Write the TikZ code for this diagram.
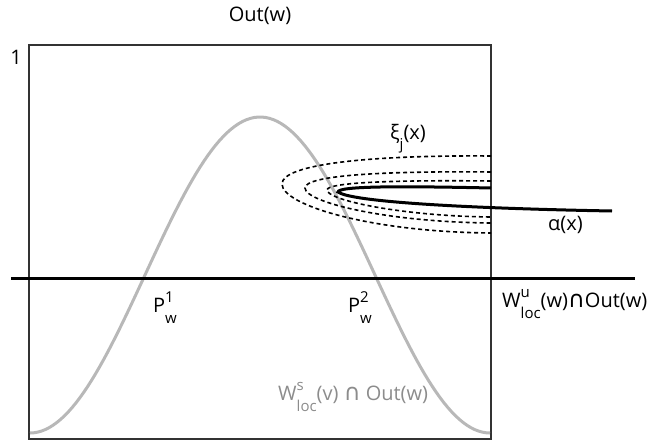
\documentclass[tikz,border=0pt]{standalone}
\usepackage{fontspec}
\setmainfont{Open Sans}
\newfontfamily\djv{DejaVu Sans}
\newcommand\scr{\fontsize{15}{15}\selectfont}
\newcommand\supsub[2]{\rlap{\raisebox{0.5em}{\scr #1}}\raisebox{-0.55em}{\scr #2}}
\newcommand\subonly[1]{\raisebox{-0.5em}{\scr #1}}
\newcommand\capsym{{\djv\fontsize{23}{24}\selectfont ∩}}
\begin{document}
\begin{tikzpicture}[x=1pt,y=-1pt,
  lbl/.style={font=\fontsize{20}{24}\selectfont, inner sep=0pt},
  frame/.style={draw=black!80, line width=1.5pt},
  axisline/.style={draw=black, line width=3pt},
  bump/.style={draw=black!28, line width=3pt},
  orbit/.style={draw=black, line width=3pt},
  leaf/.style={draw=black, line width=1.6pt, dash pattern=on 4pt off 3pt}]
\useasboundingbox (0,0) rectangle (652,441);
% frame
\draw[frame] (29,45) rectangle (491,439);
% gray bump
\draw[bump] plot[domain=30:490, samples=120] (\x, {433 - 158*(1-cos(0.78261*(\x-30)))});
% horizontal line
\coordinate (hl) at (11,278);
\coordinate (hr) at (635,278);
\draw[axisline] (hl) -- (hr);
% dashed leaves
\coordinate (o1) at (491,156); \coordinate (o2) at (282,184); \coordinate (o3) at (491,233);
\draw[leaf] (o1) .. controls (370,155) and (282,164) .. (o2) .. controls (282,205) and (370,232) .. (o3);
\coordinate (m1) at (491,172); \coordinate (m2) at (305,188); \coordinate (m3) at (491,223);
\draw[leaf] (m1) .. controls (385,171) and (305,175) .. (m2) .. controls (305,202) and (385,222) .. (m3);
\coordinate (i1) at (491,181); \coordinate (i2) at (327,190); \coordinate (i3) at (491,217);
\draw[leaf] (i1) .. controls (400,180) and (327,182) .. (i2) .. controls (327,200) and (400,216) .. (i3);
% alpha curve
\coordinate (a1) at (491,188); \coordinate (a2) at (338,192); \coordinate (a3) at (612,211);
\draw[orbit] (a1) .. controls (400,186) and (338,186) .. (a2) .. controls (350,201) and (450,208) .. (a3);
% labels
\node[lbl] (out) at (260,16) {Out(w)};
\node[lbl] (one) at (16,57) {1};
\node[lbl, anchor=base west] (xi) at (390,139) {ξ\subonly{j}(x)};
\node[lbl, anchor=base west] (al) at (548,230) {α(x)};
\node[lbl, anchor=base west] (p1) at (153,312) {P\supsub{1}{w}};
\node[lbl, anchor=base west] (p2) at (348,312) {P\supsub{2}{w}};
\node[lbl, anchor=base west] (wu) at (502,307) {W\supsub{u}{loc}(w)\capsym Out(w)};
\node[lbl, anchor=base west, text=black!45] (ws) at (278,400) {W\supsub{s}{loc}(v) \capsym{} Out(w)};
\end{tikzpicture}
\end{document}
